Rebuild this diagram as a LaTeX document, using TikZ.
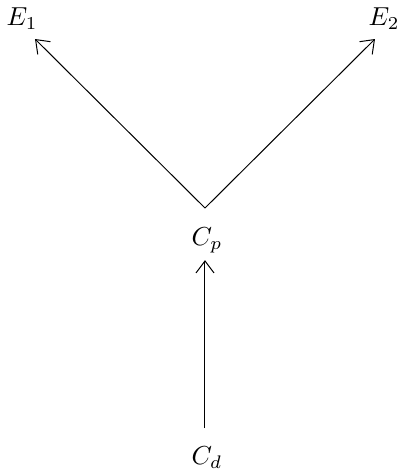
\documentclass[tikz,border=0pt]{standalone}
\usetikzlibrary{arrows.meta}
\begin{document}
\begin{tikzpicture}[x=0.5pt,y=-0.5pt,
  lbl/.style={inner sep=0pt,outer sep=0pt,scale=1.3},
  arr/.style={-{Straight Barb[length=6pt,width=9pt,line width=0.5pt]},line width=0.5pt}]
\useasboundingbox (0,0) rectangle (401,473);
\node[lbl] (E1) at (22,19) {$E_1$};
\node[lbl] (E2) at (384,19) {$E_2$};
\node[lbl] (Cp) at (207,240) {$C_p$};
\node[lbl] (Cd) at (207,458) {$C_d$};
\coordinate (apex) at (205,208);
\coordinate (t1) at (35,39);
\coordinate (t2) at (375,39);
\draw[arr] (apex) -- (t1);
\draw[arr] (apex) -- (t2);
\draw[arr,shorten <=9.5pt,shorten >=3.75pt] (Cd.north -| apex) -- (Cp.south -| apex);
\end{tikzpicture}
\end{document}
